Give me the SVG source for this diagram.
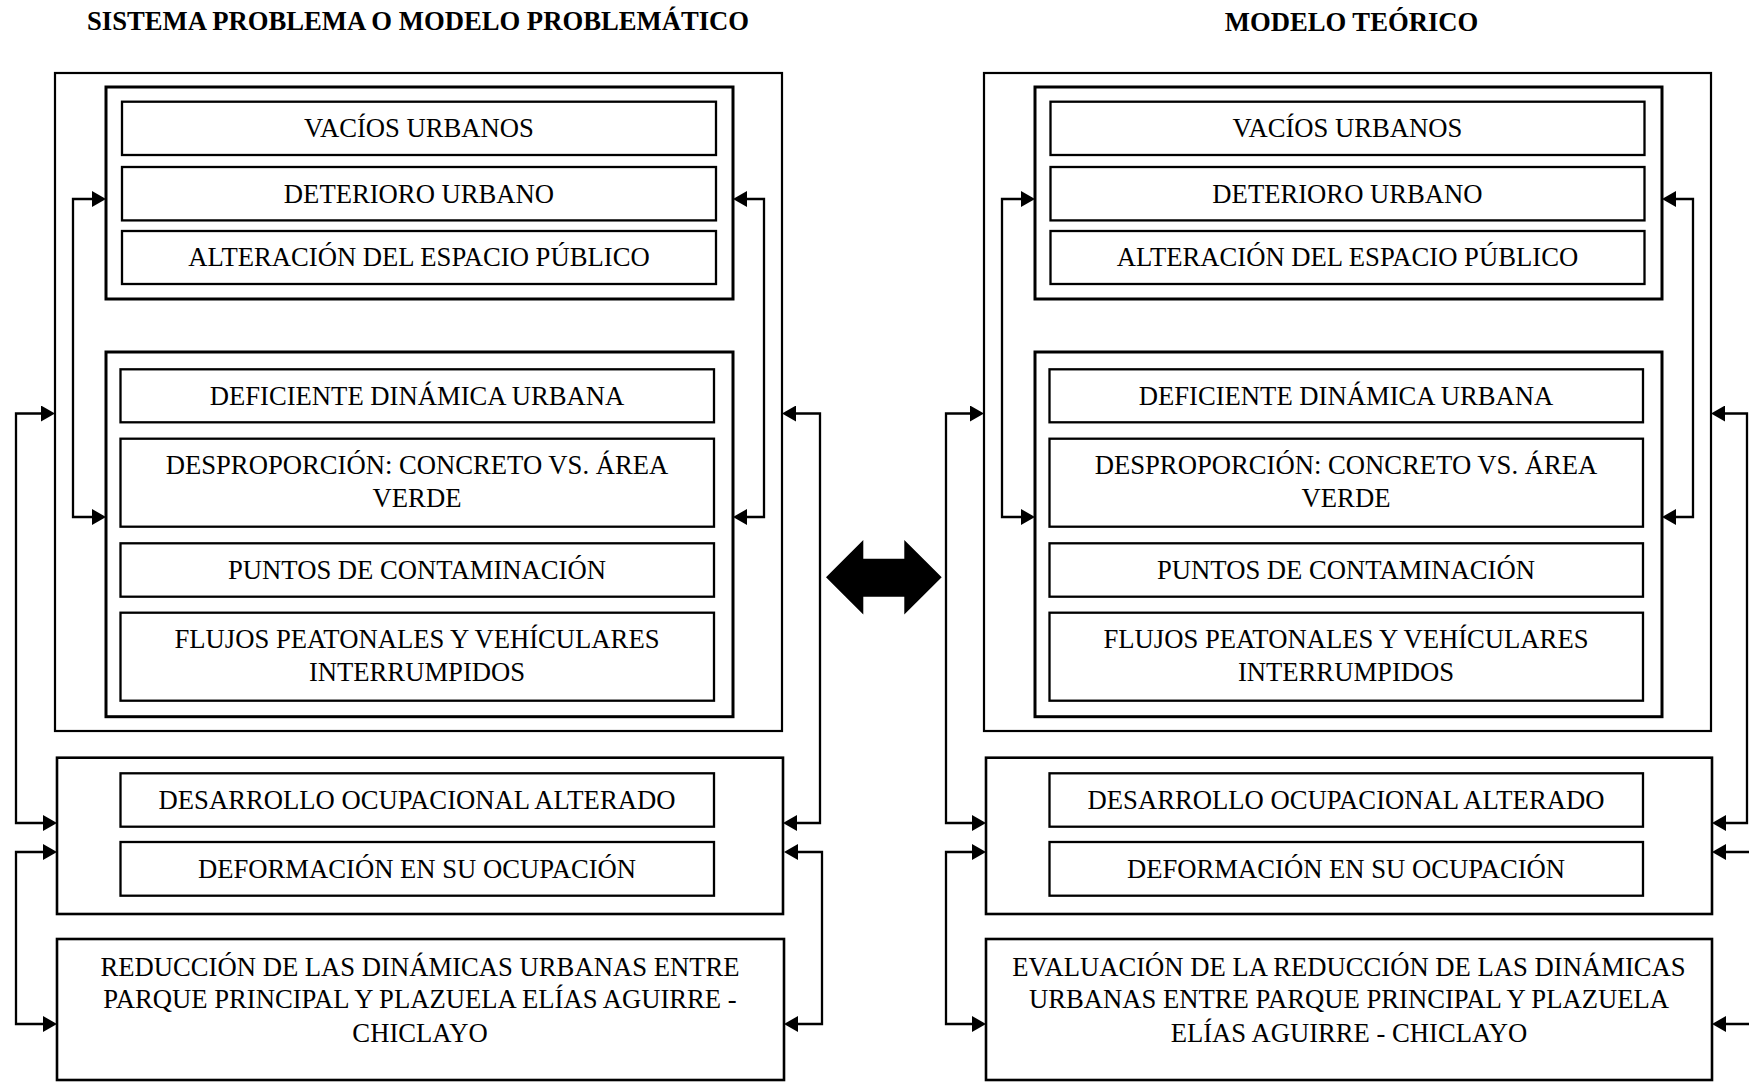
<svg xmlns="http://www.w3.org/2000/svg" width="1749" height="1082" viewBox="0 0 1749 1082">
<defs>
<style>
text{font-family:"Liberation Serif","Times New Roman",serif;font-size:26.67px;fill:#000;text-anchor:middle}
.title{font-weight:bold}
.outer{fill:none;stroke:#000;stroke-width:2.2}
.inner{fill:none;stroke:#000;stroke-width:3}
.item{fill:#fff;stroke:#000;stroke-width:2.3}
.box{fill:#fff;stroke:#000;stroke-width:2.6}
.conn{fill:none;stroke:#000;stroke-width:2.3;marker-start:url(#ah);marker-end:url(#ah)}
</style>
<marker id="ah" markerUnits="userSpaceOnUse" viewBox="0 0 14 16" refX="9" refY="8" markerWidth="14" markerHeight="16" orient="auto-start-reverse">
<path d="M0,0 L14,8 L0,16 Z" fill="#000"/>
</marker>
</defs>
<rect width="1749" height="1082" fill="#fff"/>

<g id="titles">
<text class="title" x="418" y="30">SISTEMA PROBLEMA O MODELO PROBLEMÁTICO</text>
<text class="title" x="1351.5" y="30.5">MODELO TEÓRICO</text>
</g>

<!-- LEFT SIDE -->
<g id="left-outer"><rect class="outer" x="55" y="73" width="727" height="658"/></g>
<g id="left-group1">
<rect class="inner" x="106" y="87" width="627" height="212"/>
<g id="l-vacios"><rect class="item" x="122" y="101.7" width="594" height="53.3"/><text x="419" y="137.2">VACÍOS URBANOS</text></g>
<g id="l-deterioro"><rect class="item" x="122" y="167" width="594" height="53.4"/><text x="419" y="202.5">DETERIORO URBANO</text></g>
<g id="l-alteracion"><rect class="item" x="122" y="231" width="594" height="53"/><text x="419" y="266.3">ALTERACIÓN DEL ESPACIO PÚBLICO</text></g>
</g>
<g id="left-group2">
<rect class="inner" x="106" y="352" width="627" height="364.7"/>
<g id="l-deficiente"><rect class="item" x="120.5" y="369.3" width="593.5" height="53"/><text x="417" y="404.6">DEFICIENTE DINÁMICA URBANA</text></g>
<g id="l-desproporcion"><rect class="item" x="120.5" y="438.7" width="593.5" height="88"/><text x="417" y="474">DESPROPORCIÓN: CONCRETO VS. ÁREA</text><text x="417" y="506.5">VERDE</text></g>
<g id="l-puntos"><rect class="item" x="120.5" y="543.3" width="593.5" height="53.4"/><text x="417" y="578.8">PUNTOS DE CONTAMINACIÓN</text></g>
<g id="l-flujos"><rect class="item" x="120.5" y="612.7" width="593.5" height="88"/><text x="417" y="647.5">FLUJOS PEATONALES Y VEHÍCULARES</text><text x="417" y="680.5">INTERRUMPIDOS</text></g>
</g>
<g id="left-ocupacion">
<rect class="box" x="57" y="757.7" width="726" height="156.3"/>
<g id="l-desarrollo"><rect class="item" x="120.5" y="773.3" width="593.5" height="53.4"/><text x="417" y="808.8">DESARROLLO OCUPACIONAL ALTERADO</text></g>
<g id="l-deformacion"><rect class="item" x="120.5" y="842" width="593.5" height="53.7"/><text x="417" y="877.6">DEFORMACIÓN EN SU OCUPACIÓN</text></g>
</g>
<g id="left-reduccion">
<rect class="box" x="57" y="939" width="727" height="141"/>
<text x="420" y="975.5">REDUCCIÓN DE LAS DINÁMICAS URBANAS ENTRE</text>
<text x="420" y="1008.3">PARQUE PRINCIPAL Y PLAZUELA ELÍAS AGUIRRE -</text>
<text x="420" y="1041.5">CHICLAYO</text>
</g>

<!-- RIGHT SIDE -->
<g id="right-outer"><rect class="outer" x="984" y="73" width="727" height="658"/></g>
<g id="right-group1">
<rect class="inner" x="1035" y="87" width="627" height="212"/>
<g id="r-vacios"><rect class="item" x="1050.5" y="101.7" width="594" height="53.3"/><text x="1347.5" y="137.2">VACÍOS URBANOS</text></g>
<g id="r-deterioro"><rect class="item" x="1050.5" y="167" width="594" height="53.4"/><text x="1347.5" y="202.5">DETERIORO URBANO</text></g>
<g id="r-alteracion"><rect class="item" x="1050.5" y="231" width="594" height="53"/><text x="1347.5" y="266.3">ALTERACIÓN DEL ESPACIO PÚBLICO</text></g>
</g>
<g id="right-group2">
<rect class="inner" x="1035" y="352" width="627" height="364.7"/>
<g id="r-deficiente"><rect class="item" x="1049.5" y="369.3" width="593.5" height="53"/><text x="1346" y="404.6">DEFICIENTE DINÁMICA URBANA</text></g>
<g id="r-desproporcion"><rect class="item" x="1049.5" y="438.7" width="593.5" height="88"/><text x="1346" y="474">DESPROPORCIÓN: CONCRETO VS. ÁREA</text><text x="1346" y="506.5">VERDE</text></g>
<g id="r-puntos"><rect class="item" x="1049.5" y="543.3" width="593.5" height="53.4"/><text x="1346" y="578.8">PUNTOS DE CONTAMINACIÓN</text></g>
<g id="r-flujos"><rect class="item" x="1049.5" y="612.7" width="593.5" height="88"/><text x="1346" y="647.5">FLUJOS PEATONALES Y VEHÍCULARES</text><text x="1346" y="680.5">INTERRUMPIDOS</text></g>
</g>
<g id="right-ocupacion">
<rect class="box" x="986" y="757.7" width="726" height="156.3"/>
<g id="r-desarrollo"><rect class="item" x="1049.5" y="773.3" width="593.5" height="53.4"/><text x="1346" y="808.8">DESARROLLO OCUPACIONAL ALTERADO</text></g>
<g id="r-deformacion"><rect class="item" x="1049.5" y="842" width="593.5" height="53.7"/><text x="1346" y="877.6">DEFORMACIÓN EN SU OCUPACIÓN</text></g>
</g>
<g id="right-evaluacion">
<rect class="box" x="986" y="939" width="726" height="141"/>
<text x="1349" y="975.5">EVALUACIÓN DE LA REDUCCIÓN DE LAS DINÁMICAS</text>
<text x="1349" y="1008.3">URBANAS ENTRE PARQUE PRINCIPAL Y PLAZUELA</text>
<text x="1349" y="1041.5">ELÍAS AGUIRRE - CHICLAYO</text>
</g>

<g id="connectors">
<path class="conn" d="M101,199 H73 V517 H101"/>
<path class="conn" d="M738,199 H764 V517 H738"/>
<path class="conn" d="M50,413.5 H16 V823 H52"/>
<path class="conn" d="M787,413.5 H820 V823 H788"/>
<path class="conn" d="M52,852 H16 V1024 H52"/>
<path class="conn" d="M789,852 H822 V1024 H789"/>
<path class="conn" d="M1030,199 H1002 V517 H1030"/>
<path class="conn" d="M1667,199 H1693 V517 H1667"/>
<path class="conn" d="M979,413.5 H946 V823 H981"/>
<path class="conn" d="M1716,413.5 H1747 V823 H1717"/>
<path class="conn" d="M981,852 H946 V1024 H981"/>
<path class="conn" d="M1717,852 H1753 V1024 H1717"/>
<polygon id="double-arrow" points="826,577.3 863.3,540 863.3,558.7 904.3,558.7 904.3,540 941.7,577.3 904.3,614.6 904.3,596.7 863.3,596.7 863.3,614.6" fill="#000"/>
</g>
</svg>
